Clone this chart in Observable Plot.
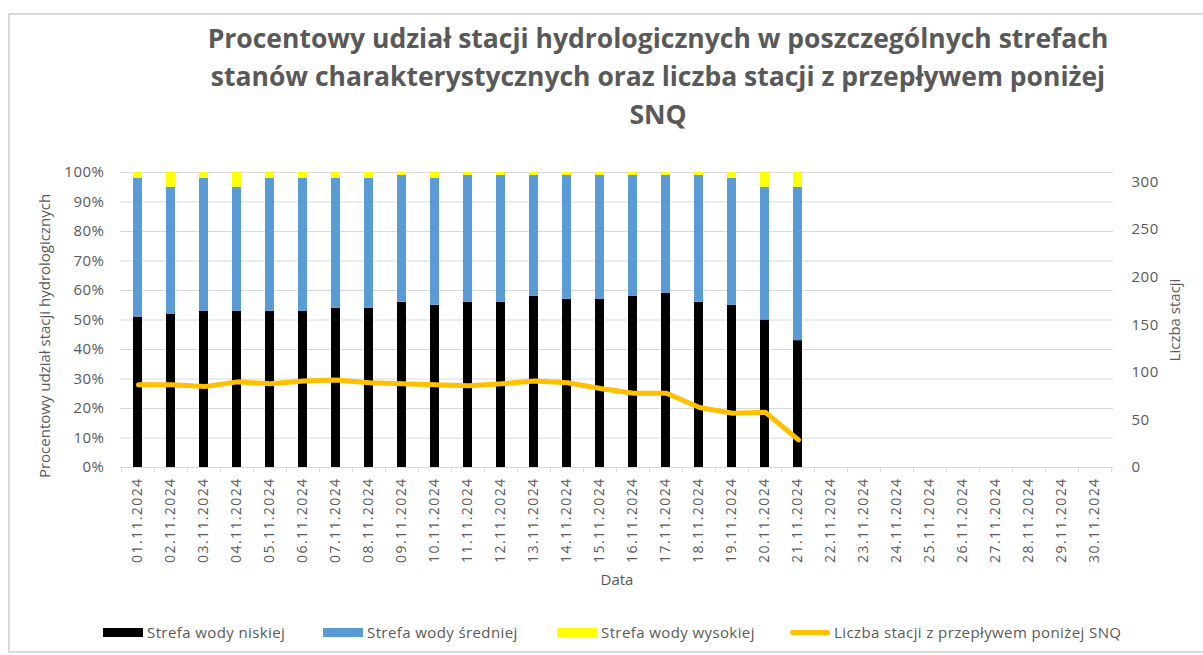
<!DOCTYPE html>
<html>
<head>
<meta charset="utf-8">
<script src="https://cdn.jsdelivr.net/npm/d3@7"></script>
<script src="https://cdn.jsdelivr.net/npm/@observablehq/plot@0.6"></script>
<style>
  html, body { margin: 0; padding: 0; background: #fff; }
  #chart { position: relative; width: 1203px; height: 655px; overflow: hidden; font-family: "Open Sans", sans-serif; color: #595959; }
  #frame { position: absolute; left: 8px; top: 13px; width: 1210px; height: 640px; border: 2px solid #d9d9d9; box-sizing: border-box; }
  #title { position: absolute; left: 158px; top: 19px; width: 1000px; text-align: center; font-weight: 700; font-size: 26.5px; line-height: 38px; color: #595959; }
  .plot { position: absolute; left: 0; top: 0; }
  .plot svg { overflow: visible; }
  g[aria-label="x-axis tick label"] text { letter-spacing: 1.4px; }
  g[aria-label="y-axis tick label"] text { letter-spacing: 0.5px; }
  #legend { position: absolute; left: 0; top: 622px; width: 1203px; height: 22px; font-size: 15px; letter-spacing: 0.4px; color: #595959; }
  .li { position: absolute; top: 0; height: 20px; display: flex; align-items: center; white-space: nowrap; }
  .sw { display: inline-block; width: 40px; height: 9px; margin-right: 4px; }
  .ln { display: inline-block; width: 40px; height: 5px; border-radius: 3px; margin-right: 4px; }
</style>
</head>
<body>
<div id="chart">
  <div id="frame"></div>
  <div id="title">Procentowy udział stacji hydrologicznych w poszczególnych strefach<br>stanów charakterystycznych oraz liczba stacji z przepływem poniżej<br>SNQ</div>
  <div id="p1" class="plot"></div>
  <div id="p2" class="plot"></div>
  <div id="legend"></div>
</div>
<script>
// ---- data ----
const dates = ["01.11.2024","02.11.2024","03.11.2024","04.11.2024","05.11.2024","06.11.2024","07.11.2024","08.11.2024","09.11.2024","10.11.2024",
               "11.11.2024","12.11.2024","13.11.2024","14.11.2024","15.11.2024","16.11.2024","17.11.2024","18.11.2024","19.11.2024","20.11.2024",
               "21.11.2024","22.11.2024","23.11.2024","24.11.2024","25.11.2024","26.11.2024","27.11.2024","28.11.2024","29.11.2024","30.11.2024"];
const lowZone  = [51,52,53,53,53,53,54,54,56,55,56,56,58,57,57,58,59,56,55,50,43];
const midZone  = [47,43,45,42,45,45,44,44,43,43,43,43,41,42,42,41,40,43,43,45,52];
const highZone = [2,5,2,5,2,2,2,2,1,2,1,1,1,1,1,1,1,1,2,5,5];
const snqCount = [87,87,85,90,88,91,92,89,88,87,86,88,91,89,83,78,78,63,57,58,29];
const seriesNames = ["Strefa wody niskiej","Strefa wody średniej","Strefa wody wysokiej"];
const lineName = "Liczba stacji z przepływem poniżej SNQ";
const seriesColors = ["#000000","#5B9BD5","#FFFF00"];
const lineColor = "#FFC000";
const pctTicks = [0,10,20,30,40,50,60,70,80,90,100];
const countTicks = [0,50,100,150,200,250,300];
const leftTitle = "Procentowy udział stacji hydrologicznych";
const rightTitle = "Liczba stacji";
const xTitle = "Data";

// ---- build tables ----
const barData = [];
lowZone.forEach((v, i) => {
  barData.push({date: dates[i], zone: seriesNames[0], value: v});
  barData.push({date: dates[i], zone: seriesNames[1], value: midZone[i]});
  barData.push({date: dates[i], zone: seriesNames[2], value: highZone[i]});
});
const lineData = snqCount.map((v, i) => ({date: dates[i], count: v}));

// ---- layout ----
const W = 1203, H = 600, mL = 120, mR = 90, mT = 172, mB = 133;
const step = (W - mL - mR) / dates.length;
const common = {
  width: W, height: H, marginLeft: mL, marginRight: mR, marginTop: mT, marginBottom: mB,
  style: {fontFamily: "Open Sans", fontSize: "14px", color: "#595959", background: "transparent", overflow: "visible"},
};
const xScale = {domain: dates, paddingInner: 0.72, paddingOuter: 0.36, axis: null};

const p1 = Plot.plot({
  ...common,
  x: xScale,
  y: {domain: [0, 100], axis: null},
  color: {domain: seriesNames, range: seriesColors},
  marks: [
    Plot.gridY(pctTicks.slice(1), {stroke: "#d9d9d9", strokeOpacity: 1}),
    Plot.ruleY([0], {stroke: "#d9d9d9", strokeWidth: 1.2}),
    Plot.axisX({tickSize: 5, text: null, label: null, dx: -step / 2, stroke: "#d9d9d9", strokeOpacity: 1}),
    Plot.axisX({ticks: [dates[dates.length - 1]], tickSize: 5, text: null, label: null, dx: step / 2, stroke: "#d9d9d9", strokeOpacity: 1}),
    Plot.axisX({tickSize: 0, tickPadding: 10, tickRotate: -90, label: null, fill: "#595959", fontSize: 14}),
    Plot.barY(barData, {x: "date", y: "value", fill: "zone"}),
    Plot.axisY({ticks: pctTicks, tickFormat: d => d + "%", tickSize: 0, tickPadding: 16, label: null, fill: "#595959", fontSize: 15}),
    Plot.text([leftTitle], {frameAnchor: "left", textAnchor: "middle", dx: -75, dy: 16, rotate: -90, fill: "#595959", fontSize: 15}),
    Plot.text([xTitle], {frameAnchor: "bottom", dy: 117, fill: "#595959", fontSize: 15})
  ]
});
document.getElementById("p1").appendChild(p1);

const p2 = Plot.plot({
  ...common,
  x: xScale,
  y: {domain: [0, 310], axis: null},
  marks: [
    Plot.line(lineData, {x: "date", y: "count", stroke: lineColor, strokeWidth: 5, strokeLinejoin: "round", strokeLinecap: "round"}),
    Plot.axisY({anchor: "right", ticks: countTicks, tickSize: 0, tickPadding: 18, label: null, fill: "#595959", fontSize: 15}),
    Plot.text([rightTitle], {frameAnchor: "right", textAnchor: "middle", dx: 62, rotate: -90, fill: "#595959", fontSize: 15})
  ]
});
document.getElementById("p2").appendChild(p2);

// ---- legend ----
const legend = document.getElementById("legend");
const legendX = [103, 323, 557, 790];
seriesNames.concat([lineName]).forEach((name, i) => {
  const item = document.createElement("div");
  item.className = "li";
  item.style.left = legendX[i] + "px";
  const sw = document.createElement("span");
  if (i < 3) { sw.className = "sw"; sw.style.background = seriesColors[i]; }
  else { sw.className = "ln"; sw.style.background = lineColor; }
  item.appendChild(sw);
  const t = document.createElement("span");
  t.textContent = name;
  item.appendChild(t);
  legend.appendChild(item);
});
</script>
</body>
</html>
